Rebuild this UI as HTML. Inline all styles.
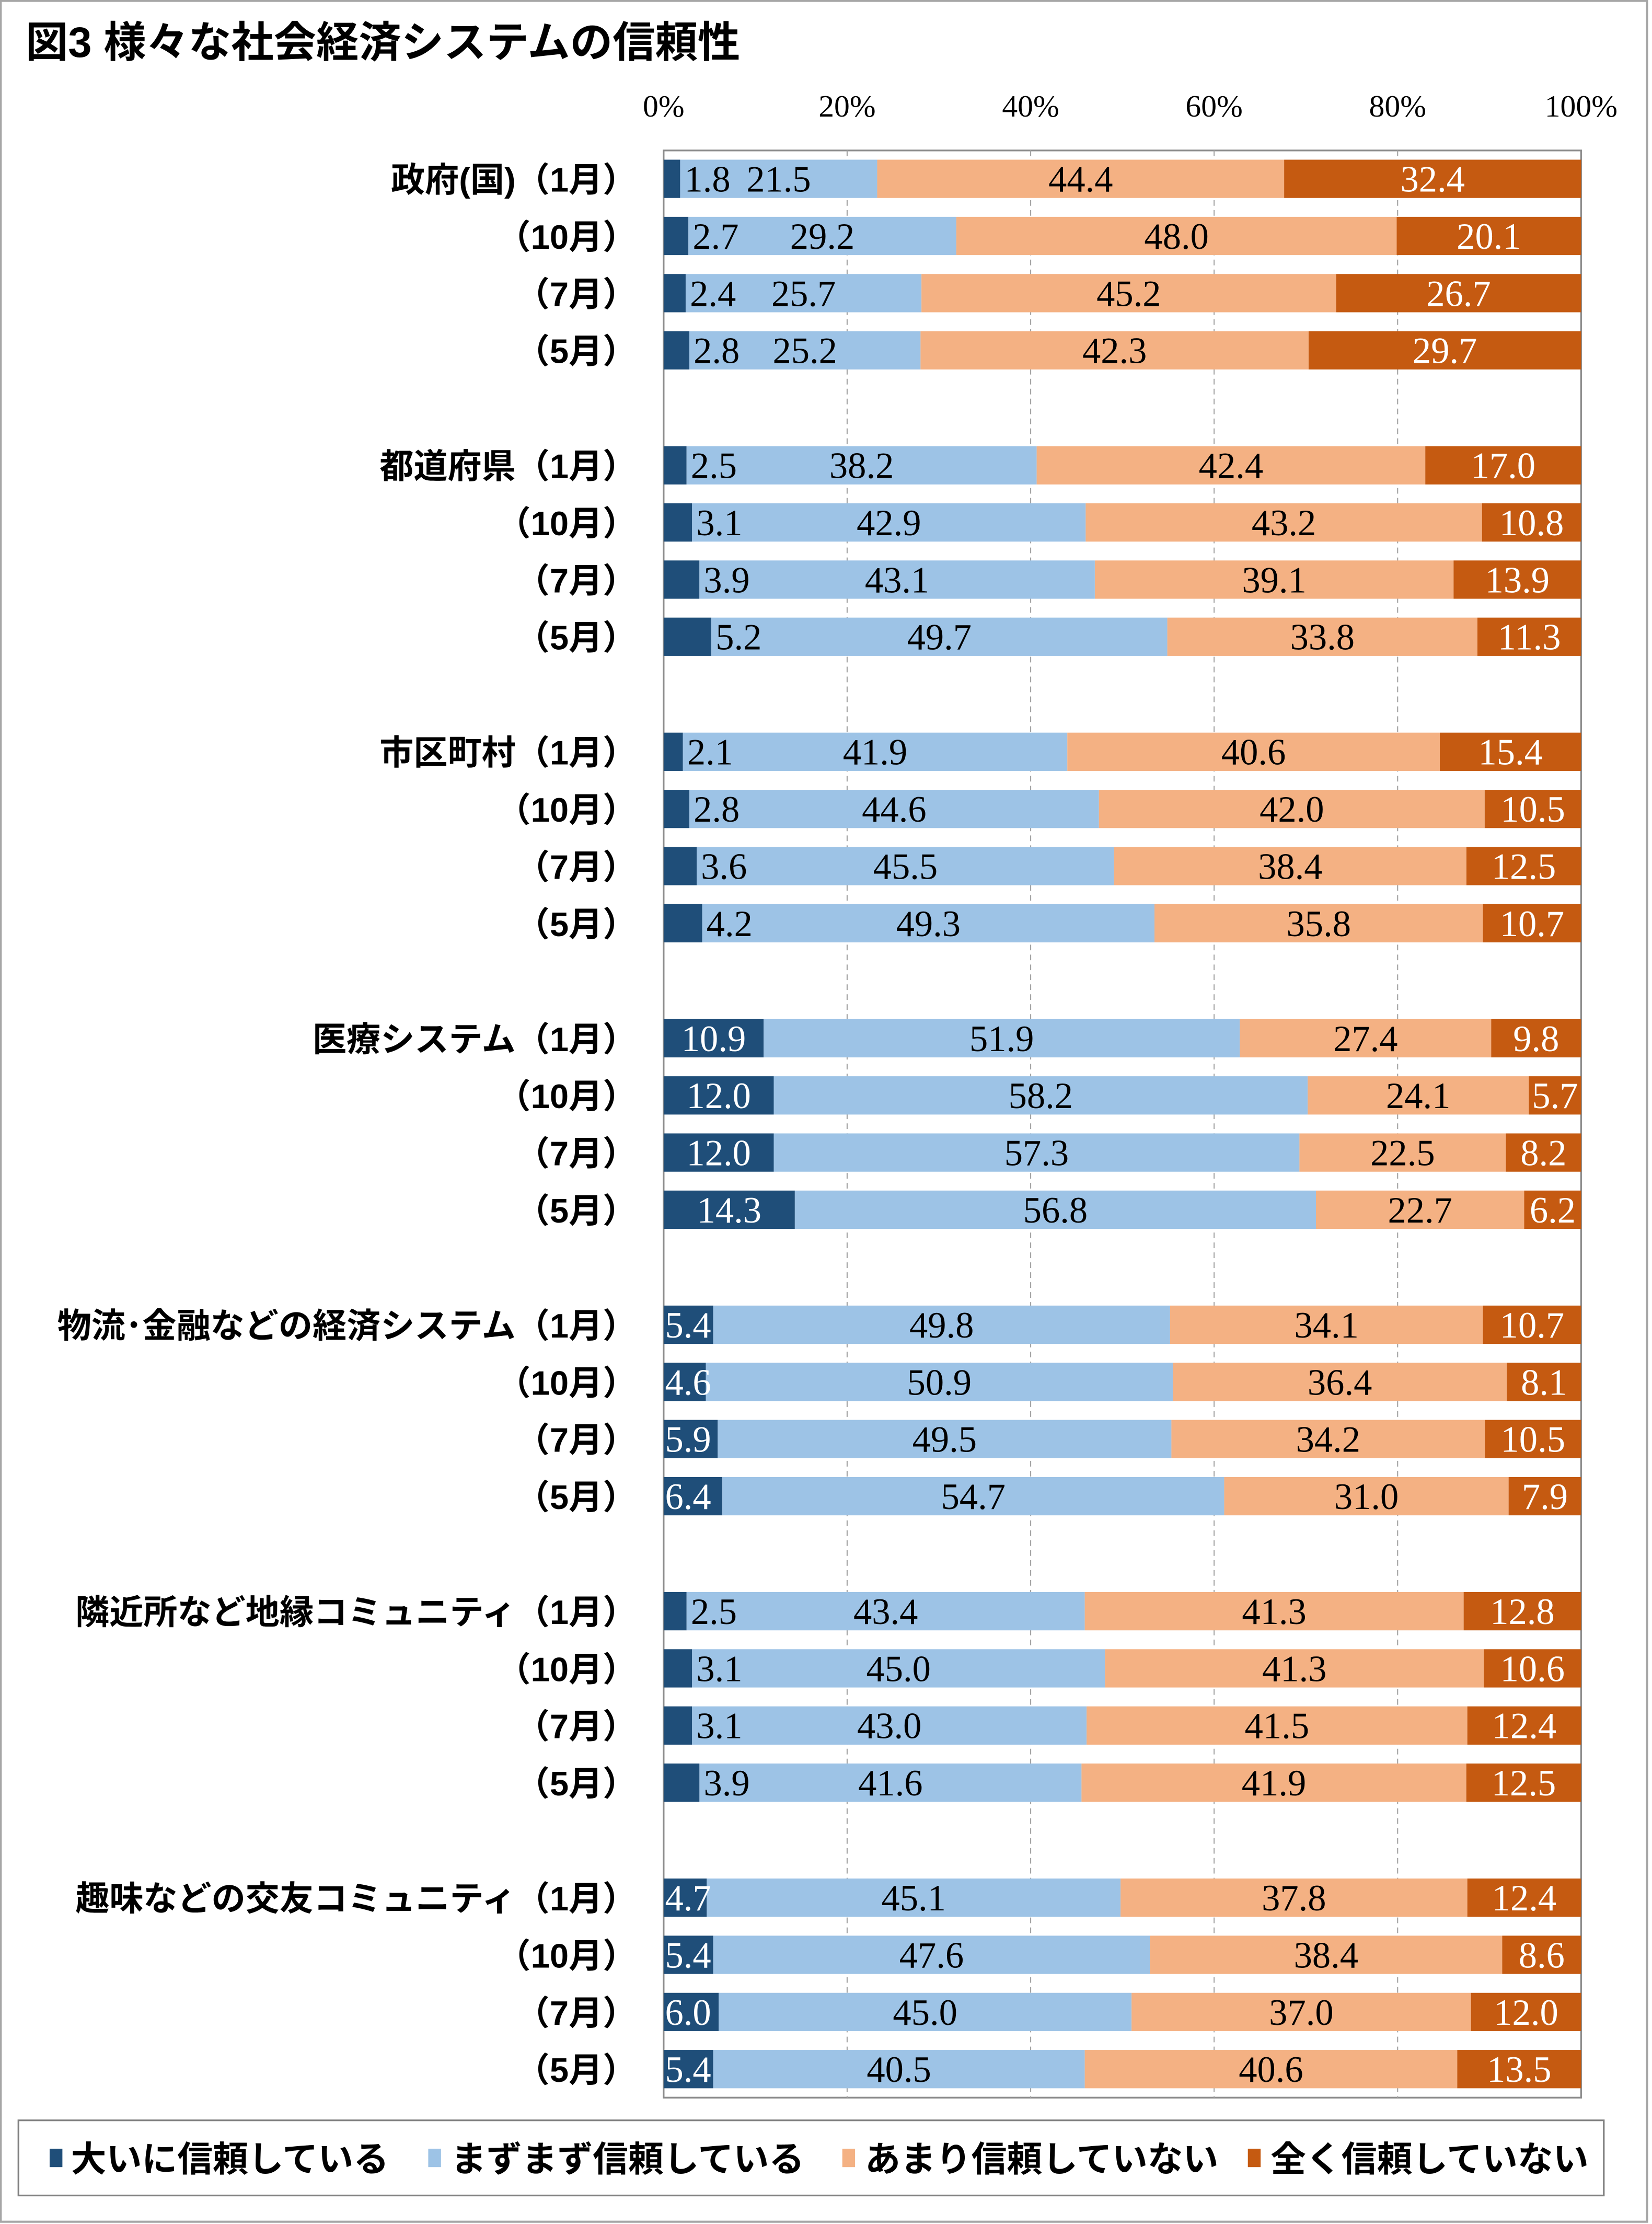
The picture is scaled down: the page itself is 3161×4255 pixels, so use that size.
<!DOCTYPE html>
<html><head><meta charset="utf-8"><style>
html,body{margin:0;padding:0;background:#fff}
svg{display:block}
.jp{font-family:"Liberation Sans","Noto Sans CJK JP",sans-serif;font-weight:bold}
.num{font-family:"Liberation Serif","Noto Serif CJK SC",serif}
</style></head><body>
<svg id="chart" width="3161" height="4255" viewBox="0 0 1165 1568" xmlns="http://www.w3.org/2000/svg">
<rect x="0.5" y="0.5" width="1161" height="1566" fill="#fff" stroke="#a6a6a6" stroke-width="1.5"/>
<text class="jp" x="18" y="40" font-size="30">図3 様々な社会経済システムの信頼性</text>
<g id="plot"></g>
<g>
<rect x="13" y="1495" width="1118" height="53" fill="#fff" stroke="#808080" stroke-width="1.2"/>
<rect x="35" y="1515" width="9" height="13" fill="#1f4e79"/>
<text class="jp" x="50" y="1531" font-size="25" font-weight="normal">大いに信頼している</text>
<rect x="302" y="1515" width="9" height="13" fill="#9dc3e6"/>
<text class="jp" x="318" y="1531" font-size="25" font-weight="normal">まずまず信頼している</text>
<rect x="594" y="1515" width="9" height="13" fill="#f4b183"/>
<text class="jp" x="610" y="1531" font-size="25" font-weight="normal">あまり信頼していない</text>
<rect x="880" y="1515" width="9" height="13" fill="#c55a11"/>
<text class="jp" x="896" y="1531" font-size="25" font-weight="normal">全く信頼していない</text>
</g>
</svg>
<script>
const groups = ["政府(国)","都道府県","市区町村","医療システム","物流･金融などの経済システム","隣近所など地縁コミュニティ","趣味などの交友コミュニティ"];
const months = ["（1月）","（10月）","（7月）","（5月）"];
const veryTrust = [1.8,2.7,2.4,2.8, 2.5,3.1,3.9,5.2, 2.1,2.8,3.6,4.2, 10.9,12.0,12.0,14.3, 5.4,4.6,5.9,6.4, 2.5,3.1,3.1,3.9, 4.7,5.4,6.0,5.4];
const someTrust = [21.5,29.2,25.7,25.2, 38.2,42.9,43.1,49.7, 41.9,44.6,45.5,49.3, 51.9,58.2,57.3,56.8, 49.8,50.9,49.5,54.7, 43.4,45.0,43.0,41.6, 45.1,47.6,45.0,40.5];
const notMuch = [44.4,48.0,45.2,42.3, 42.4,43.2,39.1,33.8, 40.6,42.0,38.4,35.8, 27.4,24.1,22.5,22.7, 34.1,36.4,34.2,31.0, 41.3,41.3,41.5,41.9, 37.8,38.4,37.0,40.6];
const notAtAll = [32.4,20.1,26.7,29.7, 17.0,10.8,13.9,11.3, 15.4,10.5,12.5,10.7, 9.8,5.7,8.2,6.2, 10.7,8.1,10.5,7.9, 12.8,10.6,12.4,12.5, 12.4,8.6,12.0,13.5];
const ticks = [0,20,40,60,80,100];

const NS="http://www.w3.org/2000/svg";
const plot=document.getElementById('plot');
const X0=468, X1=1115, YT=106, YB=1479;
const x=v=>X0+(X1-X0)*v/100;
const rowY=i=>{const g=Math.floor(i/4), r=i%4; return 126+g*202+r*40.3;};
function mk(tag,attrs,parent){const e=document.createElementNS(NS,tag);for(const k in attrs)e.setAttribute(k,attrs[k]);(parent||plot).appendChild(e);return e;}

const area=mk('rect',{x:X0,y:YT,width:X1-X0,height:YB-YT,fill:'none',stroke:'#8c8c8c','stroke-width':1.2});


ticks.forEach(t=>{
  if(t>0&&t<100){const l=mk('line',{x1:x(t),x2:x(t),y1:YT,y2:YB,stroke:'#a6a6a6','stroke-width':0.8,'stroke-dasharray':'4,3'});
  
  }
  const tx=mk('text',{x:x(t),y:82,'text-anchor':'middle','font-size':22,class:'num'});
  tx.textContent=t+'%';
  
  
});

const series=[veryTrust,someTrust,notMuch,notAtAll];
const colors=['#1f4e79','#9dc3e6','#f4b183','#c55a11'];
const txtCol=['#fff','#000','#000','#fff'];
const names=['very','somewhat','not-much','not-at-all'];
const labels=[];
for(let i=0;i<veryTrust.length;i++){
  const cy=rowY(i);
  const g=Math.floor(i/4), r=i%4;
  const lab=mk('text',{x:449,y:cy+9,'text-anchor':'end','font-size':24,class:'jp'});
  lab.textContent=(r===0?groups[g]:'')+months[r];
  
  
  let cum=0;
  const total=series.reduce((s,a)=>s+a[i],0);
  series.forEach((arr,k)=>{
    const v=arr[i]*100/total;
    const xs=x(cum), xe=x(cum+v);
    const b=mk('rect',{x:xs,y:cy-13.5,width:xe-xs,height:27,fill:colors[k]});
    
    
    let tx,anchor='middle',col=txtCol[k];
    if(k===0&&(g<3||g===5)&&arr[i]<6){tx=xe+3;anchor='start';col='#000';}
    else if(k===0&&arr[i]<7){tx=xs+1;anchor='start';}
    else tx=(xs+xe)/2;
    labels.push({tx,y:cy+9,anchor,col,val:arr[i]});
    cum+=v;
  });
}
labels.forEach(o=>{
  const t=mk('text',{x:o.tx,y:o.y,'text-anchor':o.anchor,'font-size':26,fill:o.col,class:'num'});
  t.textContent=o.val.toFixed(1);
  
  
});
</script>
</body></html>
